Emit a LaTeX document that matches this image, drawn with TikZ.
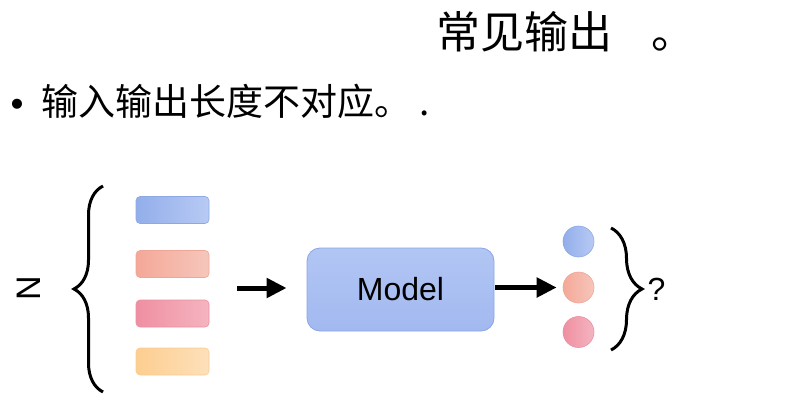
\documentclass[tikz,border=0pt]{standalone}
\usepackage{fontspec}
\setmainfont{Liberation Sans}
\newfontfamily\cjk{Noto Sans CJK SC}
\usetikzlibrary{arrows.meta,decorations.pathreplacing}
\definecolor{blueA}{HTML}{92AEEA}
\definecolor{blueB}{HTML}{B8CAF4}
\definecolor{blueE}{HTML}{8EA8E4}
\definecolor{salA}{HTML}{F4A898}
\definecolor{salB}{HTML}{F6C6BB}
\definecolor{salE}{HTML}{EEA797}
\definecolor{pinkA}{HTML}{EF8FA1}
\definecolor{pinkB}{HTML}{F5B4C0}
\definecolor{pinkE}{HTML}{E890A0}
\definecolor{orA}{HTML}{FDCE90}
\definecolor{orB}{HTML}{FDE0BA}
\definecolor{orE}{HTML}{F8CC92}
\definecolor{modA}{HTML}{A2B9F0}
\definecolor{modB}{HTML}{B2C6F4}
\definecolor{modE}{HTML}{8AA5E6}
\tikzset{
  tok/.style n args={3}{left color=#1, right color=#2, draw=#3, line width=0.6pt,
    rounded corners=4pt, minimum width=73pt, minimum height=27pt, inner sep=0pt},
  outdot/.style n args={3}{circle, left color=#1, right color=#2, draw=#3, line width=0.6pt,
    minimum size=31pt, inner sep=0pt},
  modelbox/.style={top color=modB, bottom color=modA, draw=modE, line width=0.8pt,
    rounded corners=13pt, minimum width=187pt, minimum height=83pt,
    font=\fontsize{32}{38}\selectfont},
  fat/.style={-{Triangle[length=20pt,width=19pt]}, line width=5pt},
  curly/.style={decorate, line width=3pt, decoration={brace, amplitude=#1}}
}
\begin{document}
\begin{tikzpicture}[x=1pt,y=1pt]
    \useasboundingbox (0,0) rectangle (810,416);
    \node[anchor=west, inner sep=0pt, font=\cjk\fontsize{44}{50}\selectfont] (title) at (436,384.5) {常见输出\kern0.9em 。};
    \node[anchor=base, font=\fontsize{37}{44}\selectfont] (dot) at (17,299.3) {•};
    \node[anchor=west, inner sep=0pt, font=\cjk\fontsize{37}{44}\selectfont] (point) at (41,314.5) {输入输出长度不对应。 .};
    \node[rotate=90, font=\fontsize{34}{40}\selectfont] (n) at (28.5,127.5) {N};
    \draw[curly=29pt] (103,24) -- (103,230);
    \node[tok={blueA}{blueB}{blueE}] (t1) at (172.5,206) {};
    \node[tok={salA}{salB}{salE}] (t2) at (172.5,152) {};
    \node[tok={pinkA}{pinkB}{pinkE}] (t3) at (172.5,102.5) {};
    \node[tok={orA}{orB}{orE}] (t4) at (172.5,54.5) {};
    \node[modelbox] (model) at (400.5,126.5) {Model};
    \coordinate (feed) at (237,128);
    \draw[fat] (feed) -- (feed -| model.west) [shorten >=20pt];
    \node[outdot={blueA}{blueB}{blueE}] (o1) at (578.5,174.5) {};
    \node[outdot={salA}{salB}{salE}] (o2) at (578.5,128.5) {};
    \node[outdot={pinkA}{pinkB}{pinkE}] (o3) at (578.5,84) {};
    \draw[fat, shorten <=1pt, shorten >=6pt] (model.east |- o2.west) -- (o2.west);
    \draw[curly=31pt] (611,188) -- (611,66);
    \node[font=\fontsize{32}{38}\selectfont] (q) at (656.5,126.5) {?};
\end{tikzpicture}
\end{document}
